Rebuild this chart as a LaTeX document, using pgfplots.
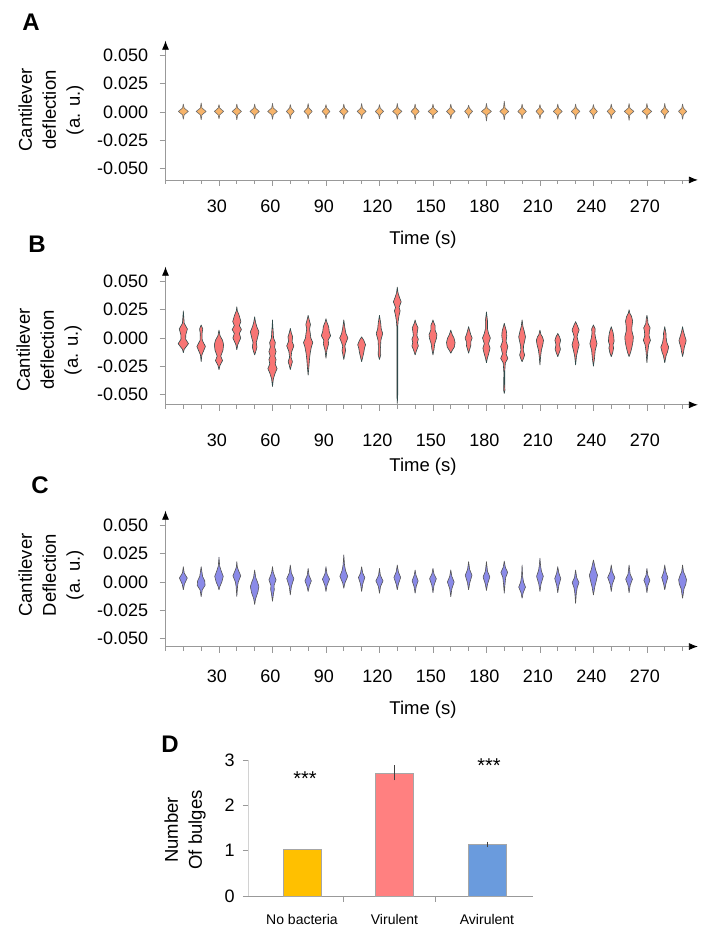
\documentclass[border=0pt]{standalone}
\usepackage{pgfplots}
\pgfplotsset{compat=1.18}
\usepackage{fontspec}
\setmainfont{Liberation Sans}
\usetikzlibrary{arrows.meta}

\definecolor{vA}{HTML}{F7B46A}
\definecolor{vAl}{HTML}{6A6A6A}
\definecolor{vB}{HTML}{F87574}
\definecolor{vBl}{HTML}{2E4A4A}
\definecolor{vC}{HTML}{8A8AE8}
\definecolor{vCl}{HTML}{555555}
\definecolor{cN}{HTML}{FFC000}
\definecolor{cV}{HTML}{FF8080}
\definecolor{cA}{HTML}{6A9BDD}

% violin: #1 style, #2 x position, #3 knots y/halfwidth (ascending y)
\newcommand\violin[3]{%
  \gdef\vR{}\gdef\vL{}%
  \foreach \yy/\ww in {#3}{%
    \pgfmathsetmacro\xr{#2+\ww}%
    \pgfmathsetmacro\xl{#2-\ww}%
    \xdef\vR{\vR(\xr,\yy)}%
    \xdef\vL{(\xl,\yy)\vL}%
  }%
  \edef\vtmp{\noexpand\addplot[#1] coordinates {\vR\vL};}%
  \vtmp
}

\pgfplotsset{
  vsA/.style={fill=vA, draw=vAl, line width=0.6pt, line join=round},
  vsB/.style={fill=vB, draw=vBl, line width=0.6pt, line join=round},
  vsC/.style={fill=vC, draw=vCl, line width=0.6pt, line join=round},
  violinaxis/.style={
    x=1.783pt, y=1132pt, anchor=origin,
    xmin=0, xmax=298.6, ymax=0.063,
    axis lines=left,
    axis line style={draw=gray!80, line width=0.8pt, -{Latex[length=9pt,width=7pt,color=black]}},
    xtick={30,60,90,120,150,180,210,240,270},
    xticklabels={30,60,90,120,150,180,210,240,270},
    minor xtick={0,10,20,40,50,70,80,100,110,130,140,160,170,190,200,220,230,250,260,280,290},
    ytick={-0.05,-0.025,0,0.025,0.05},
    yticklabels={-0.050,-0.025,0.000,0.025,0.050},
    scaled y ticks=false, scaled x ticks=false,
    tick align=outside, major tick length=6pt, minor tick length=4pt,
    tick style={draw=gray!80, line width=0.8pt},
    tick label style={font=\fontsize{18}{21}\selectfont},
    yticklabel style={xshift=-5pt},
    clip=false,
  },
}

\begin{document}
\begin{tikzpicture}
\fontsize{18.5}{24}\selectfont

% ---------------- Panel A ----------------
\node[font=\fontsize{24}{24}\selectfont\bfseries] at (31pt,-22pt) {A};
\node[rotate=90, align=center, font=\fontsize{18.5}{24}\selectfont] at (51pt,-110pt) {Cantilever\\deflection\\(a. u.)};
\node[font=\fontsize{18.5}{22}\selectfont] at (423pt,-240pt) {Time (s)};
\begin{axis}[violinaxis, at={(165.5pt,-112pt)}, ymin=-0.060, xticklabel style={yshift=-8pt, xshift=-2pt}]
\violin{vsA}{10}{-0.0065/0,-0.0025/0.45,0.0005/2.8,0.0035/0.45,0.007/0}
\violin{vsA}{20}{-0.007/0,-0.0025/0.45,0.0005/2.8,0.0035/0.45,0.008/0}
\violin{vsA}{30}{-0.006/0,-0.0025/0.45,0.0005/2.6,0.0035/0.45,0.0065/0}
\violin{vsA}{40}{-0.007/0,-0.0025/0.45,0.0005/2.6,0.0035/0.45,0.007/0}
\violin{vsA}{50}{-0.006/0,-0.0025/0.45,0.0005/2.6,0.0035/0.45,0.007/0}
\violin{vsA}{60}{-0.0065/0,-0.0025/0.45,0.0005/2.7,0.0035/0.45,0.0075/0}
\violin{vsA}{70}{-0.006/0,-0.0025/0.45,0.0005/2.2,0.0035/0.45,0.0065/0}
\violin{vsA}{80}{-0.006/0,-0.0025/0.45,0.0005/2.3,0.0035/0.45,0.0075/0}
\violin{vsA}{90}{-0.006/0,-0.0025/0.45,0.0005/2.2,0.0035/0.45,0.0065/0}
\violin{vsA}{100}{-0.0065/0,-0.0025/0.45,0.0005/2.4,0.0035/0.45,0.007/0}
\violin{vsA}{110}{-0.006/0,-0.0025/0.45,0.0005/2.5,0.0035/0.45,0.0075/0}
\violin{vsA}{120}{-0.006/0,-0.0025/0.45,0.0005/2.3,0.0035/0.45,0.0065/0}
\violin{vsA}{130}{-0.0065/0,-0.0025/0.45,0.0005/2.6,0.0035/0.45,0.0075/0}
\violin{vsA}{140}{-0.007/0,-0.0025/0.45,0.0005/2.3,0.0035/0.45,0.007/0}
\violin{vsA}{150}{-0.006/0,-0.0025/0.45,0.0005/2.7,0.0035/0.45,0.007/0}
\violin{vsA}{160}{-0.006/0,-0.0025/0.45,0.0005/2.4,0.0035/0.45,0.007/0}
\violin{vsA}{170}{-0.0055/0,-0.0025/0.45,0.0005/2.2,0.0035/0.45,0.006/0}
\violin{vsA}{180}{-0.008/0,-0.0025/0.45,0.0005/2.8,0.0035/0.45,0.0075/0}
\violin{vsA}{190}{-0.007/0,-0.0025/0.45,0.0005/2.5,0.0035/0.45,0.0095/0}
\violin{vsA}{200}{-0.006/0,-0.0025/0.45,0.0005/2.4,0.0035/0.45,0.007/0}
\violin{vsA}{210}{-0.006/0,-0.0025/0.45,0.0005/2.2,0.0035/0.45,0.0065/0}
\violin{vsA}{220}{-0.0065/0,-0.0025/0.45,0.0005/2.5,0.0035/0.45,0.007/0}
\violin{vsA}{230}{-0.0065/0,-0.0025/0.45,0.0005/2.4,0.0035/0.45,0.007/0}
\violin{vsA}{240}{-0.006/0,-0.0025/0.45,0.0005/2.2,0.0035/0.45,0.0065/0}
\violin{vsA}{250}{-0.006/0,-0.0025/0.45,0.0005/2.3,0.0035/0.45,0.007/0}
\violin{vsA}{260}{-0.0075/0,-0.0025/0.45,0.0005/2.7,0.0035/0.45,0.0075/0}
\violin{vsA}{270}{-0.0065/0,-0.0025/0.45,0.0005/2.7,0.0035/0.45,0.0075/0}
\violin{vsA}{280}{-0.006/0,-0.0025/0.45,0.0005/2.2,0.0035/0.45,0.0075/0}
\violin{vsA}{290}{-0.0065/0,-0.0025/0.45,0.0005/2.3,0.0035/0.45,0.007/0}
\end{axis}

% ---------------- Panel B ----------------
\node[font=\fontsize{24}{24}\selectfont\bfseries] at (37pt,-244pt) {B};
\node[rotate=90, align=center, font=\fontsize{18.5}{24}\selectfont] at (49pt,-350pt) {Cantilever\\deflection\\(a. u.)};
\node[font=\fontsize{18.5}{22}\selectfont] at (423pt,-467pt) {Time (s)};
\begin{axis}[violinaxis, at={(165.5pt,-338pt)}, ymin=-0.059, xticklabel style={yshift=-17pt, xshift=-2pt}]
\violin{vsB}{10}{-0.013/0,-0.010/0.5,-0.005/2.9,-0.001/1.3,0.003/1.4,0.008/2.3,0.013/0.5,0.024/0}
\violin{vsB}{20}{-0.021/0,-0.015/0.4,-0.0075/2.4,-0.002/0.6,0.004/0.5,0.008/0.9,0.0115/0}
\violin{vsB}{30}{-0.028/0,-0.024/0.6,-0.020/2.0,-0.016/1.0,-0.011/2.2,-0.006/2.6,-0.002/2.0,0.002/0.6,0.007/0}
\violin{vsB}{40}{-0.0105/0,-0.006/0.5,0.000/2.2,0.004/1.4,0.0075/2.6,0.011/1.4,0.0145/2.3,0.020/1.3,0.024/0.3,0.0276/0}
\violin{vsB}{50}{-0.015/0,-0.011/0.8,-0.008/1.3,-0.004/0.9,0.000/1.6,0.0055/2.4,0.010/1.2,0.014/0.5,0.0188/0}
\violin{vsB}{60}{-0.043/0,-0.036/0.5,-0.031/1.5,-0.027/2.6,-0.023/1.5,-0.019/2.0,-0.016/1.3,-0.012/2.0,-0.008/1.2,-0.004/1.6,0.000/0.6,0.006/0.4,0.010/0.2,0.016/0}
\violin{vsB}{70}{-0.028/0,-0.024/0.6,-0.021/1.2,-0.017/0.4,-0.012/0.8,-0.007/2.0,-0.003/1.0,0.001/1.3,0.005/0.5,0.0085/0}
\violin{vsB}{80}{-0.033/0,-0.026/0.4,-0.018/0.8,-0.013/1.2,-0.008/1.8,-0.004/2.6,0.000/1.5,0.004/1.2,0.008/0.8,0.012/1.3,0.016/0.6,0.020/0}
\violin{vsB}{90}{-0.018/0,-0.011/0.5,-0.005/1.5,-0.002/1.2,0.002/2.6,0.006/1.8,0.010/1.5,0.014/0.5,0.017/0}
\violin{vsB}{100}{-0.019/0,-0.014/0.6,-0.011/1.0,-0.007/0.6,-0.003/1.5,0.000/2.3,0.004/1.2,0.009/0.6,0.016/0}
\violin{vsB}{110}{-0.021/0,-0.017/0.6,-0.013/1.2,-0.009/1.6,-0.006/2.2,-0.002/1.2,0.001/0}
\violin{vsB}{120}{-0.019/0,-0.015/0.7,-0.008/0.6,-0.002/0.8,0.004/1.8,0.008/1.0,0.013/0.7,0.020/0}
\violin{vsB}{130}{-0.058/0,-0.050/0.25,0.010/0.25,0.015/0.5,0.020/1.0,0.024/1.6,0.027/1.0,0.032/2.2,0.036/1.2,0.040/0.4,0.045/0}
\violin{vsB}{140}{-0.015/0,-0.011/0.8,-0.007/1.8,-0.004/1.3,-0.001/1.8,0.002/1.0,0.005/1.2,0.009/1.6,0.013/0.5,0.016/0}
\violin{vsB}{150}{-0.015/0,-0.010/0.6,-0.005/1.0,0.000/2.0,0.003/2.2,0.007/1.2,0.011/1.2,0.014/0.4,0.016/0}
\violin{vsB}{160}{-0.0135/0,-0.011/0.8,-0.008/2.0,-0.004/2.4,0.000/1.8,0.003/0.8,0.007/0}
\violin{vsB}{170}{-0.0135/0,-0.010/0.6,-0.007/1.2,-0.003/1.3,0.000/2.0,0.003/1.2,0.007/0.5,0.010/0}
\violin{vsB}{180}{-0.022/0,-0.018/0.5,-0.013/1.4,-0.009/2.0,-0.005/1.2,0.000/2.2,0.004/1.2,0.008/0.6,0.015/0.6,0.023/0}
\violin{vsB}{190}{-0.049/0,-0.046/0.4,-0.043/0.3,-0.030/0.25,-0.022/0.6,-0.018/2.0,-0.014/1.0,-0.0075/2.0,-0.003/1.0,0.002/1.4,0.006/1.2,0.010/0.5,0.013/0}
\violin{vsB}{200}{-0.021/0,-0.018/0.8,-0.015/1.4,-0.011/0.7,-0.007/0.8,-0.003/1.4,0.001/1.9,0.006/1.2,0.010/0.5,0.016/0}
\violin{vsB}{210}{-0.024/0,-0.016/0.4,-0.011/0.8,-0.006/1.6,-0.002/2.0,0.001/1.4,0.003/0.6,0.007/0}
\violin{vsB}{220}{-0.0165/0,-0.014/0.6,-0.010/1.5,-0.006/1.0,-0.002/1.6,0.001/1.0,0.004/0}
\violin{vsB}{230}{-0.024/0,-0.016/0.5,-0.011/1.2,-0.006/2.0,-0.002/1.3,0.001/0.8,0.004/1.3,0.007/2.0,0.011/1.0,0.0144/0}
\violin{vsB}{240}{-0.025/0,-0.018/0.6,-0.011/1.0,-0.005/2.0,0.000/1.2,0.004/0.8,0.008/1.0,0.0115/0}
\violin{vsB}{250}{-0.0165/0,-0.013/0.8,-0.009/1.3,-0.006/1.0,-0.003/1.6,0.001/1.4,0.005/1.0,0.010/0}
\violin{vsB}{260}{-0.0165/0,-0.013/0.8,-0.008/1.6,-0.003/2.2,0.001/2.4,0.006/1.6,0.010/1.6,0.015/2.0,0.019/1.4,0.022/0.4,0.025/0}
\violin{vsB}{270}{-0.022/0,-0.012/0.5,-0.006/1.0,-0.002/2.0,0.002/1.2,0.006/1.4,0.009/1.8,0.013/0.6,0.017/0.4,0.020/0}
\violin{vsB}{280}{-0.022/0,-0.016/0.7,-0.012/1.6,-0.008/2.2,-0.004/1.2,0.000/0.8,0.004/0.7,0.010/0}
\violin{vsB}{290}{-0.0165/0,-0.012/0.6,-0.008/1.0,-0.004/1.8,-0.002/2.0,0.002/1.2,0.006/0.5,0.010/0}
\end{axis}

% ---------------- Panel C ----------------
\node[font=\fontsize{24}{24}\selectfont\bfseries] at (40pt,-485pt) {C};
\node[rotate=90, align=center, font=\fontsize{18.5}{24}\selectfont] at (51pt,-575pt) {Cantilever\\Deflection\\(a. u.)};
\node[font=\fontsize{18.5}{22}\selectfont] at (423pt,-710pt) {Time (s)};
\begin{axis}[violinaxis, at={(165.5pt,-582pt)}, ymin=-0.057, xticklabel style={yshift=-11pt, xshift=-2pt}]
\violin{vsC}{10}{-0.007/0,-0.002/0.6,0.0035/2.2,0.008/0.5,0.0135/0}
\violin{vsC}{20}{-0.013/0,-0.007/0.6,-0.003/2.2,0.001/2.0,0.005/0.8,0.0135/0}
\violin{vsC}{30}{-0.007/0,-0.004/0.5,0.000/1.6,0.005/2.4,0.010/1.2,0.014/0.4,0.022/0}
\violin{vsC}{40}{-0.013/0,-0.004/0.4,0.000/0.8,0.0055/2.2,0.010/1.0,0.013/0.3,0.018/0}
\violin{vsC}{50}{-0.020/0,-0.015/0.5,-0.009/1.8,-0.004/2.4,0.000/1.6,0.004/0.6,0.0106/0}
\violin{vsC}{60}{-0.017/0,-0.010/0.6,-0.007/1.0,-0.003/0.9,0.002/2.0,0.006/1.0,0.009/0.4,0.0135/0}
\violin{vsC}{70}{-0.0115/0,-0.004/0.6,0.003/2.0,0.008/0.6,0.015/0}
\violin{vsC}{80}{-0.0085/0,-0.004/0.6,0.001/1.8,0.006/0.5,0.012/0}
\violin{vsC}{90}{-0.0085/0,-0.003/0.6,0.0025/2.0,0.007/0.6,0.0135/0}
\violin{vsC}{100}{-0.0056/0,-0.001/0.6,0.005/2.2,0.010/1.0,0.015/0.4,0.024/0}
\violin{vsC}{110}{-0.0085/0,-0.002/0.6,0.004/1.8,0.008/0.6,0.0135/0}
\violin{vsC}{120}{-0.010/0,-0.004/0.6,0.001/2.0,0.006/0.5,0.012/0}
\violin{vsC}{130}{-0.007/0,-0.002/0.6,0.004/1.9,0.009/0.6,0.015/0}
\violin{vsC}{140}{-0.010/0,-0.004/0.6,0.001/1.7,0.006/0.5,0.0106/0}
\violin{vsC}{150}{-0.0095/0,-0.003/0.6,0.003/1.9,0.007/0.6,0.012/0}
\violin{vsC}{160}{-0.013/0,-0.006/0.6,0.000/1.9,0.005/0.6,0.0106/0}
\violin{vsC}{170}{-0.007/0,-0.001/0.6,0.006/1.9,0.011/0.6,0.018/0}
\violin{vsC}{180}{-0.0075/0,-0.002/0.6,0.0045/1.9,0.0095/0.6,0.018/0}
\violin{vsC}{190}{-0.010/0,-0.002/0.4,0.004/0.8,0.0085/1.9,0.013/0.6,0.0185/0}
\violin{vsC}{200}{-0.0145/0,-0.0095/0.6,-0.0045/1.9,0.000/0.8,0.005/0.3,0.015/0}
\violin{vsC}{210}{-0.0085/0,-0.002/0.6,0.005/1.9,0.010/0.8,0.014/0.4,0.021/0}
\violin{vsC}{220}{-0.0095/0,-0.003/0.6,0.003/1.7,0.008/0.6,0.0135/0}
\violin{vsC}{230}{-0.019/0,-0.010/0.4,-0.005/0.9,-0.0005/1.9,0.004/0.6,0.0106/0}
\violin{vsC}{240}{-0.0115/0,-0.004/0.8,0.001/1.6,0.006/2.3,0.011/1.2,0.0194/0}
\violin{vsC}{250}{-0.0085/0,-0.002/0.6,0.004/2.0,0.009/0.6,0.015/0}
\violin{vsC}{260}{-0.0095/0,-0.003/0.6,0.0025/1.9,0.007/0.6,0.015/0}
\violin{vsC}{270}{-0.0095/0,-0.003/0.6,0.0015/1.7,0.006/0.5,0.012/0}
\violin{vsC}{280}{-0.007/0,-0.002/0.6,0.004/1.7,0.009/0.6,0.015/0}
\violin{vsC}{290}{-0.0145/0,-0.006/0.8,-0.002/1.8,0.002/2.2,0.006/1.4,0.009/0.5,0.015/0}
\end{axis}

% ---------------- Panel D ----------------
\node[font=\fontsize{24}{24}\selectfont\bfseries] at (170pt,-744pt) {D};
\node[rotate=90, align=center, font=\fontsize{18.5}{24}\selectfont] at (185pt,-830pt) {Number\\Of bulges};
\begin{axis}[at={(302pt,-896pt)}, anchor=origin, x=92.5pt, y=45.3pt,
  xmin=-0.584, xmax=2.497, ymin=0, ymax=3,
  axis x line=bottom, axis y line=left,
  x axis line style={-, draw=gray!80, line width=0.8pt},
  y axis line style={-, draw=gray!35, line width=0.8pt},
  ytick={0,1,2,3}, yticklabels={0,1,2,3},
  xtick={0,1,2}, xticklabels={No bacteria,Virulent,Avirulent},
  major x tick style={draw=none},
  major y tick style={draw=gray!80, line width=0.8pt},
  xticklabel style={font=\fontsize{14}{16}\selectfont, yshift=-7pt},
  tick align=outside, major tick length=5pt,
  yticklabel style={font=\fontsize{18}{21}\selectfont, xshift=-2pt},
  clip=false]
\addplot[ybar, bar shift=0pt, bar width=38pt, fill=cN, draw=gray!70] coordinates {(0,1.04)};
\addplot[ybar, bar shift=0pt, bar width=38pt, fill=cV, draw=gray!70,
  error bars/.cd, y dir=both, y explicit, error mark=none,
  error bar style={black!75, line width=0.8pt}] coordinates {(1,2.72) +- (0,0.165)};
\addplot[ybar, bar shift=0pt, bar width=38pt, fill=cA, draw=gray!70,
  error bars/.cd, y dir=both, y explicit, error mark=none,
  error bar style={black!75, line width=0.8pt}] coordinates {(2,1.14) +- (0,0.06)};
% small separator ticks on the category axis
\draw[gray!80, line width=0.8pt] (axis cs:0.443,0) -- ++(0pt,-6pt);
\draw[gray!80, line width=0.8pt] (axis cs:1.438,0) -- ++(0pt,-6pt);
\end{axis}
\node[anchor=base, font=\fontsize{20}{20}\selectfont] at (305pt,-785pt) {***};
\node[anchor=base, font=\fontsize{20}{20}\selectfont] at (489pt,-772pt) {***};

\pgfresetboundingbox
\useasboundingbox (0pt,0pt) rectangle (706pt,-931pt);
\end{tikzpicture}
\end{document}
